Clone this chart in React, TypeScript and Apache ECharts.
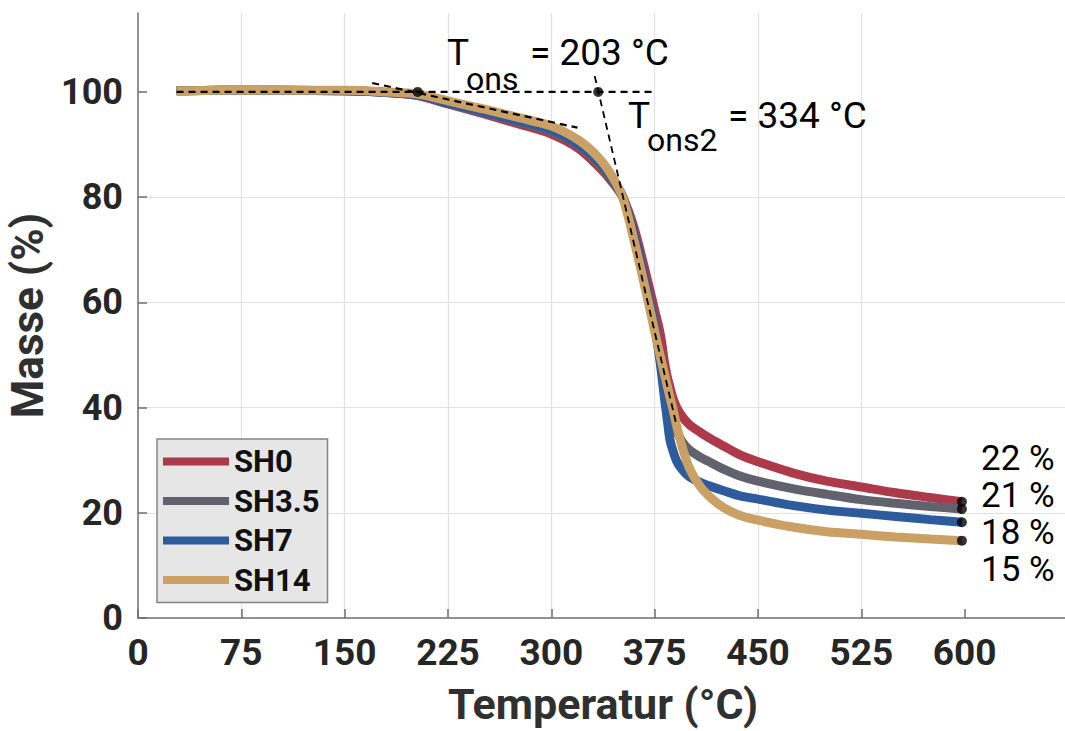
import React, { useEffect, useRef } from "react";
import * as echarts from "echarts";

// ---- Data ----
const temps = [28, 60, 100, 150, 180, 203, 225, 250, 275, 300, 320, 335, 345, 352, 360, 370, 375, 378, 380, 382, 384, 386, 388, 391, 395, 400, 408, 416, 425, 437, 450, 475, 500, 525, 550, 575, 598];
const massSH0 = [100.2, 100.3, 100.3, 100.2, 99.9, 99.3, 97.7, 95.9, 94.0, 92.0, 89.2, 85.6, 82.6, 79.9, 74.2, 64.0, 58.5, 55.3, 52.5, 48.8, 46.0, 44.0, 42.0, 40.0, 38.3, 36.8, 35.3, 34.0, 32.7, 31.0, 29.7, 27.6, 26.0, 24.9, 23.8, 22.9, 22.1];
const massSH35 = [100.2, 100.3, 100.3, 100.2, 99.9, 99.4, 97.8, 96.1, 94.4, 92.5, 89.7, 86.2, 82.9, 79.9, 73.0, 61.8, 55.5, 51.0, 48.0, 45.0, 42.0, 39.5, 37.5, 35.5, 33.5, 32.0, 30.6, 29.5, 28.3, 27.0, 26.0, 24.6, 23.5, 22.5, 21.8, 21.2, 20.7];
const massSH7 = [100.2, 100.3, 100.3, 100.2, 99.9, 99.4, 97.9, 96.3, 94.6, 92.8, 90.0, 86.6, 83.2, 80.0, 73.0, 61.8, 55.5, 50.5, 46.5, 42.0, 38.0, 34.0, 32.0, 29.8, 28.2, 26.9, 25.8, 25.0, 24.2, 23.2, 22.6, 21.4, 20.5, 19.9, 19.3, 18.7, 18.2];
const massSH14 = [100.2, 100.3, 100.3, 100.3, 100.0, 99.6, 98.3, 96.8, 95.2, 93.5, 90.8, 87.3, 83.6, 79.8, 71.8, 60.5, 54.5, 51.0, 48.7, 46.5, 44.3, 42.0, 40.0, 36.5, 32.5, 28.6, 25.0, 22.8, 21.0, 19.5, 18.6, 17.3, 16.4, 15.9, 15.4, 15.0, 14.7];

const seriesNames = ["SH0", "SH3.5", "SH7", "SH14"];
const seriesColors = ["#ad3a4a", "#62626e", "#2e5b9c", "#cba064"];
const seriesMasses = [massSH0, massSH35, massSH7, massSH14];

// tangent / onset construction
const baselineT = [28, 375];
const baselineM = [100, 100];
const tangent1T = [170, 319];
const tangent1M = [101.7, 93.2];
const tangent2T = [331.5, 391];
const tangent2M = [103, 36.5];
const onsetT = [203, 334];
const onsetM = [100, 100];
const residueT = 598;
const residueM = [22.1, 20.7, 18.2, 14.7];
const residueLabels = ["22 %", "21 %", "18 %", "15 %"];

const xTicks = [0, 75, 150, 225, 300, 375, 450, 525, 600];
const yTicks = [0, 20, 40, 60, 80, 100];

const FONT = "Roboto";

export default function App() {
  const ref = useRef<HTMLDivElement>(null);
  useEffect(() => {
    document.body.style.margin = "0";
    const chart = echarts.init(ref.current!, null, { renderer: "svg" });
    const curveSeries = seriesNames.map((name, i) => ({
      name,
      type: "line",
      data: temps.map((t, k) => [t, seriesMasses[i][k]]),
      showSymbol: false,
      symbol: "none",
      smooth: 0.3,
      lineStyle: { color: seriesColors[i], width: 9 },
      itemStyle: { color: seriesColors[i] },
      z: 2 + i,
    }));
    const dashed = (T: number[], M: number[], w: number) => ({
      type: "line",
      data: T.map((t, k) => [t, M[k]]),
      showSymbol: false,
      symbol: "none",
      silent: true,
      lineStyle: { color: "#000", width: w, type: [7, 5] },
      z: 10,
    });
    const option: any = {
      animation: false,
      backgroundColor: "#fff",
      grid: { left: 138, top: 13, right: -3, bottom: 113, outerBoundsMode: "none", containLabel: false },
      legend: {
        data: seriesNames,
        orient: "vertical",
        left: 157,
        top: 439,
        icon: "rect",
        itemWidth: 66,
        itemHeight: 8,
        itemGap: 8.5,
        padding: [7, 8, 7, 6],
        backgroundColor: "#e6e6e6",
        borderColor: "#858585",
        borderWidth: 1.5,
        textStyle: { fontFamily: FONT, fontWeight: "bold", fontSize: 31, color: "#111", lineHeight: 30 },
      },
      xAxis: {
        type: "value",
        min: 0,
        max: 675,
        interval: 75,
        name: "Temperatur (°C)",
        nameLocation: "middle",
        nameGap: 66,
        nameTextStyle: { fontFamily: FONT, fontWeight: "bold", fontSize: 43, lineHeight: 40, color: "#303030" },
        axisLine: { lineStyle: { color: "#6e6e6e", width: 1.5 } },
        axisTick: { inside: true, length: 9, customValues: xTicks, lineStyle: { color: "#6e6e6e", width: 1.5 } },
        axisLabel: { customValues: xTicks, margin: 16, fontFamily: FONT, fontWeight: "bold", fontSize: 37, color: "#262626" },
        splitLine: { show: true, showMinLine: false, showMaxLine: false, lineStyle: { color: "#e2e2e2", width: 1.2 } },
      },
      yAxis: {
        type: "value",
        min: 0,
        max: 115,
        interval: 20,
        name: "Masse (%)",
        nameLocation: "middle",
        nameGap: 71,
        nameTextStyle: { fontFamily: FONT, fontWeight: "bold", fontSize: 44, color: "#303030" },
        axisLine: { show: true, lineStyle: { color: "#6e6e6e", width: 1.5 } },
        axisTick: { show: true, inside: true, length: 9, customValues: yTicks, lineStyle: { color: "#6e6e6e", width: 1.5 } },
        axisLabel: { customValues: yTicks, margin: 15, fontFamily: FONT, fontWeight: "bold", fontSize: 36, color: "#262626" },
        splitLine: { show: true, showMinLine: false, showMaxLine: false, lineStyle: { color: "#e2e2e2", width: 1.2 } },
      },
      series: [
        ...curveSeries,
        dashed(baselineT, baselineM, 2.2),
        dashed(tangent1T, tangent1M, 2.2),
        dashed(tangent2T, tangent2M, 1.8),
        {
          type: "scatter",
          data: onsetT.map((t, k) => [t, onsetM[k]]),
          symbolSize: 10,
          itemStyle: { color: "#000" },
          silent: true,
          z: 12,
        },
        {
          type: "scatter",
          data: residueM.map((m) => [residueT, m]),
          symbolSize: 10,
          itemStyle: { color: "#000" },
          silent: true,
          z: 12,
        },
      ],
      graphic: [
        { type: "text", left: 447, top: 34, z: 20, style: { text: "T", font: `37px ${FONT}`, fill: "#000" } },
        { type: "text", left: 466, top: 63, z: 20, style: { text: "ons", font: `32px ${FONT}`, fill: "#000" } },
        { type: "text", left: 530, top: 34, z: 20, style: { text: "= 203 °C", font: `37px ${FONT}`, fill: "#000" } },
        { type: "text", left: 628, top: 97, z: 20, style: { text: "T", font: `37px ${FONT}`, fill: "#000" } },
        { type: "text", left: 647, top: 124, z: 20, style: { text: "ons2", font: `32px ${FONT}`, fill: "#000" } },
        { type: "text", left: 728, top: 97, z: 20, style: { text: "= 334 °C", font: `37px ${FONT}`, fill: "#000" } },
        ...residueLabels.map((txt, i) => ({
          type: "text",
          left: 981,
          top: [441, 478, 515, 552][i],
          z: 20,
          style: { text: txt, font: `35px ${FONT}`, lineHeight: 32, fill: "#000" },
        })),
      ],
    };
    chart.setOption(option);
    return () => chart.dispose();
  }, []);
  return <div ref={ref} style={{ width: 1065, height: 731 }} />;
}
